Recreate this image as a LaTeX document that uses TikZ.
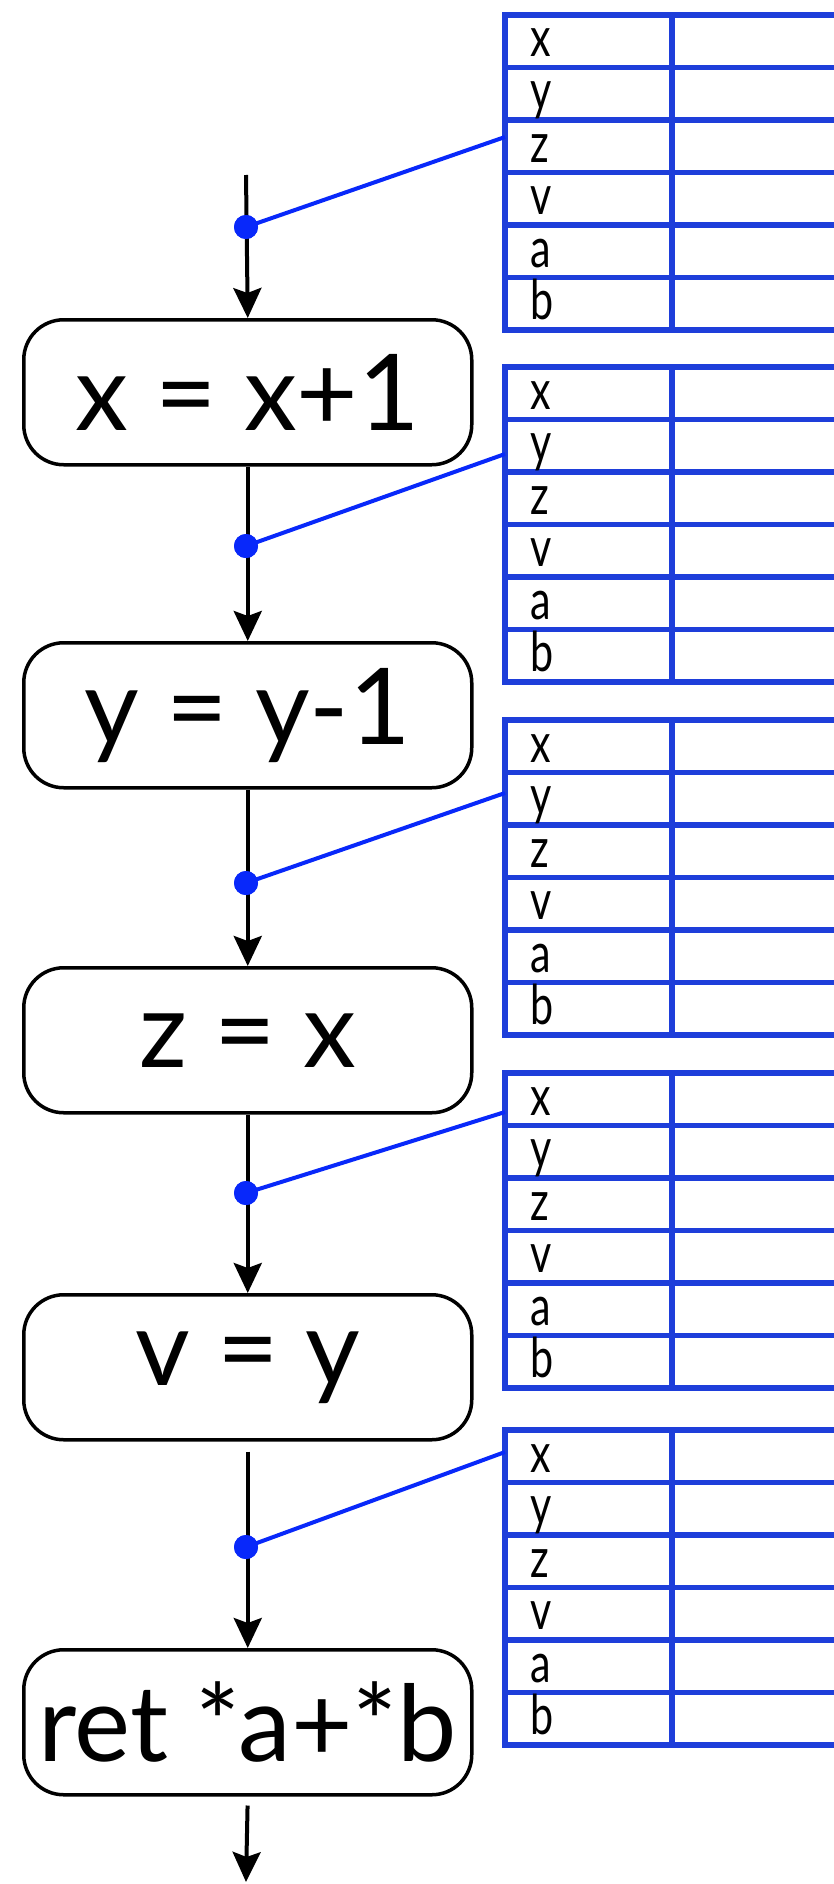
\documentclass[tikz,border=0pt]{standalone}
\usepackage{fontspec}
\setmainfont{Lato}
\usetikzlibrary{arrows.meta}
\definecolor{tblue}{RGB}{30,62,218}
\definecolor{dblue}{RGB}{8,40,250}
\begin{document}
\begin{tikzpicture}[x=1pt,y=-1pt,
  stmt/.style={draw=black, line width=3.5pt, rounded corners=40pt, minimum width=448pt, minimum height=145pt, inner sep=0pt, anchor=north west, font=\fontsize{106}{110}\selectfont},
  flow/.style={draw=black, line width=4pt, -{Stealth[length=30pt,width=28pt,inset=5pt]}},
  tline/.style={draw=tblue, line width=5.5pt},
  link/.style={draw=dblue, line width=4pt},
  pin/.style={circle, fill=dblue, inner sep=0pt, minimum size=24pt},
  lbl/.style={font=\fontsize{55}{55}\selectfont, anchor=base west, inner sep=0pt}
]
\useasboundingbox (0,0) rectangle (834,1884);
\fill[white] (0,0) rectangle (834,1884);
% statements
\node[stmt] (s1) at (22,318) {x = x+1};
\node[stmt] (s2) at (22,641) {y = y-1};
\node[stmt] (s3) at (22,966) {z = x};
\node[stmt] (s4) at (22,1293) {v = y};
\node[stmt] (s5) at (22,1648) {ret *a+*b};
\coordinate (in) at (246,175);
\coordinate (out) at (246,1882);
% tables
\foreach \T/\n in {15/1, 367/2, 720/3, 1073/4, 1430/5} {
  \foreach \r in {0,...,6} \draw[tline] (502.25,\T+\r*52.5) -- (834,\T+\r*52.5);
  \draw[tline] (505,\T) -- (505,\T+315);
  \draw[tline] (672,\T) -- (672,\T+315);
  \foreach \l [count=\k from 0] in {x,y,z,v,a,b}
    \node[lbl] (t\n\l) at (530,\T+\k*52.5+42) {\scalebox{0.75}[1]{\l}};
}
\coordinate (e1) at (505,137);
\coordinate (e2) at (505,454);
\coordinate (e3) at (505,793);
\coordinate (e4) at (505,1112);
\coordinate (e5) at (505,1452);
% control flow
\draw[flow] (in) -- (s1.north);
\draw[flow] (s1.south) -- (s2.north);
\draw[flow] (s2.south) -- (s3.north);
\draw[flow] (s3.south) -- (s4.north);
\draw[flow, shorten <=10pt] (s4.south) -- (s5.north);
\draw[flow, shorten <=9pt] (s5.south) -- (out);
% program points
\node[pin] (d1) at (246,227) {};
\node[pin] (d2) at (246,546) {};
\node[pin] (d3) at (246,883) {};
\node[pin] (d4) at (246,1193) {};
\node[pin] (d5) at (246,1547) {};
\foreach \i in {1,...,5} \draw[link] (d\i.center) -- (e\i);
\foreach \i in {1,...,5} \node[pin] at (d\i) {};
\end{tikzpicture}
\end{document}
